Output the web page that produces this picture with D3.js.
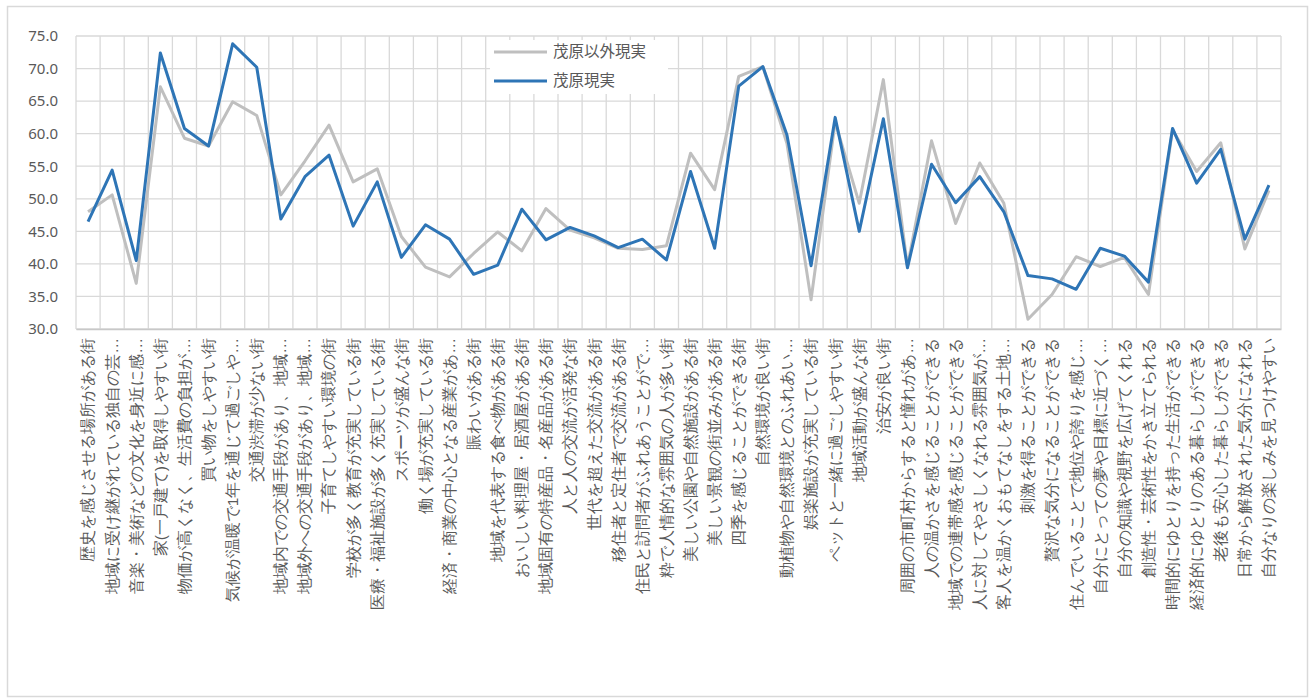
<!DOCTYPE html>
<html><head><meta charset="utf-8">
<script src="https://cdn.jsdelivr.net/npm/d3@7"></script>
<style>
html,body{margin:0;padding:0;background:#fff;}
svg{display:block;font-family:"Noto Sans CJK JP","Noto Sans",sans-serif;}
</style></head>
<body><svg id="c" width="1311" height="700"></svg>
<script>
const categories = [
"歴史を感じさせる場所がある街","地域に受け継がれている独自の芸…","音楽・美術などの文化を身近に感…","家(一戸建て)を取得しやすい街","物価が高くなく、生活費の負担が…",
"買い物をしやすい街","気候が温暖で1年を通じて過ごしや…","交通渋滞が少ない街","地域内での交通手段があり、地域…","地域外への交通手段があり、地域…",
"子育てしやすい環境の街","学校が多く教育が充実している街","医療・福祉施設が多く充実している街","スポーツが盛んな街","働く場が充実している街",
"経済・商業の中心となる産業があ…","賑わいがある街","地域を代表する食べ物がある街","おいしい料理屋・居酒屋がある街","地域固有の特産品・名産品がある街",
"人と人の交流が活発な街","世代を超えた交流がある街","移住者と定住者で交流がある街","住民と訪問者がふれあうことがで…","粋で人情的な雰囲気の人が多い街",
"美しい公園や自然施設がある街","美しい景観の街並みがある街","四季を感じることができる街","自然環境が良い街","動植物や自然環境とのふれあい…",
"娯楽施設が充実している街","ペットと一緒に過ごしやすい街","地域活動が盛んな街","治安が良い街","周囲の市町村からすると憧れがあ…",
"人の温かさを感じることができる","地域での連帯感を感じることができる","人に対してやさしくなれる雰囲気が…","客人を温かくおもてなしをする土地…","刺激を得ることができる",
"贅沢な気分になることができる","住んでいることで地位や誇りを感じ…","自分にとっての夢や目標に近づく…","自分の知識や視野を広げてくれる","創造性・芸術性をかき立てられる",
"時間的にゆとりを持った生活ができる","経済的にゆとりのある暮らしができる","老後も安心した暮らしができる","日常から解放された気分になれる","自分なりの楽しみを見つけやすい"
];
const seriesNames = ["茂原以外現実","茂原現実"];
const othersValues = [48.0,50.6,37.0,67.2,59.3,58.1,64.9,62.8,50.6,55.8,61.3,52.6,54.6,44.2,39.5,38.0,41.6,44.9,42.0,48.5,45.2,44.0,42.4,42.2,42.8,57.0,51.4,68.8,70.3,58.5,34.5,61.8,49.3,68.3,39.6,58.9,46.2,55.5,49.3,31.5,35.3,41.1,39.6,41.0,35.3,60.6,54.2,58.6,42.3,51.3];
const mobaraValues = [46.5,54.4,40.5,72.4,60.8,58.1,73.8,70.2,46.9,53.4,56.7,45.8,52.6,41.0,46.0,43.8,38.4,39.8,48.4,43.7,45.6,44.3,42.5,43.8,40.6,54.2,42.4,67.3,70.3,59.8,39.7,62.5,45.0,62.3,39.4,55.3,49.4,53.4,48.0,38.2,37.7,36.1,42.4,41.2,37.2,60.8,52.4,57.6,43.8,52.1];
const yTicks = [30,35,40,45,50,55,60,65,70,75];

const svg = d3.select("#c");
const L = 76, R = 1281, T = 36, B = 329;

// outer frame
svg.append("rect").attr("x",7.5).attr("y",6.5).attr("width",1300).attr("height",690)
  .attr("fill","#fff").attr("stroke","#d9d9d9").attr("stroke-width",1.5);

const x = d3.scaleBand().domain(categories).range([L,R]).paddingInner(0).paddingOuter(0);
const y = d3.scaleLinear().domain([30,75]).range([B,T]);

const grid = svg.append("g");
// horizontal gridlines
grid.selectAll("line.h").data(yTicks).join("line")
  .attr("x1",L).attr("x2",R).attr("y1",d=>y(d)).attr("y2",d=>y(d))
  .attr("stroke","#d9d9d9").attr("stroke-width",1.3);
// vertical gridlines at band boundaries
const bounds = categories.map(c=>x(c)).concat([R]);
grid.selectAll("line.v").data(bounds).join("line")
  .attr("x1",d=>d).attr("x2",d=>d).attr("y1",T).attr("y2",B)
  .attr("stroke","#d9d9d9").attr("stroke-width",1.3);

// y axis labels
const yAxis = d3.axisLeft(y).tickValues(yTicks).tickFormat(d3.format(".1f")).tickSize(0).tickPadding(18);
const ya = svg.append("g").attr("transform",`translate(${L},0)`).call(yAxis);
ya.select(".domain").remove();
ya.selectAll("text").attr("fill","#595959").style("font-size","15px").style("font-family","'Noto Sans','DejaVu Sans',sans-serif");

// x axis
const xAxis = d3.axisBottom(x).tickSize(0).tickPadding(0);
const xa = svg.append("g").attr("transform",`translate(0,${B})`).call(xAxis);
xa.select(".domain").attr("stroke","#c8c8c8").attr("stroke-width",1.3);
xa.selectAll("text")
  .attr("transform","rotate(-90)")
  .attr("x",-9).attr("y",0).attr("dy","0.35em")
  .attr("text-anchor","end")
  .attr("fill","#595959")
  .style("font-size","15.5px");

// lines
const line = vals => d3.line().x((d,i)=>x(categories[i])+x.bandwidth()/2).y(d=>y(d))(vals);
svg.append("path").attr("d",line(othersValues)).attr("fill","none")
  .attr("stroke","#bfbfbf").attr("stroke-width",3).attr("stroke-linejoin","round");
svg.append("path").attr("d",line(mobaraValues)).attr("fill","none")
  .attr("stroke","#2e75b6").attr("stroke-width",3).attr("stroke-linejoin","round");

// legend
const lg = svg.append("g");
lg.append("rect").attr("x",490).attr("y",40).attr("width",178).attr("height",54).attr("fill","#fff");
const legendColors = ["#bfbfbf","#2e75b6"];
seriesNames.forEach((n,i)=>{
  const yy = 52 + i*29;
  lg.append("line").attr("x1",494).attr("x2",547).attr("y1",yy).attr("y2",yy)
    .attr("stroke",legendColors[i]).attr("stroke-width",3);
  lg.append("text").attr("x",553).attr("y",yy).attr("dy","0.35em")
    .attr("fill","#595959").style("font-size","15.5px").text(n);
});
</script></body></html>
